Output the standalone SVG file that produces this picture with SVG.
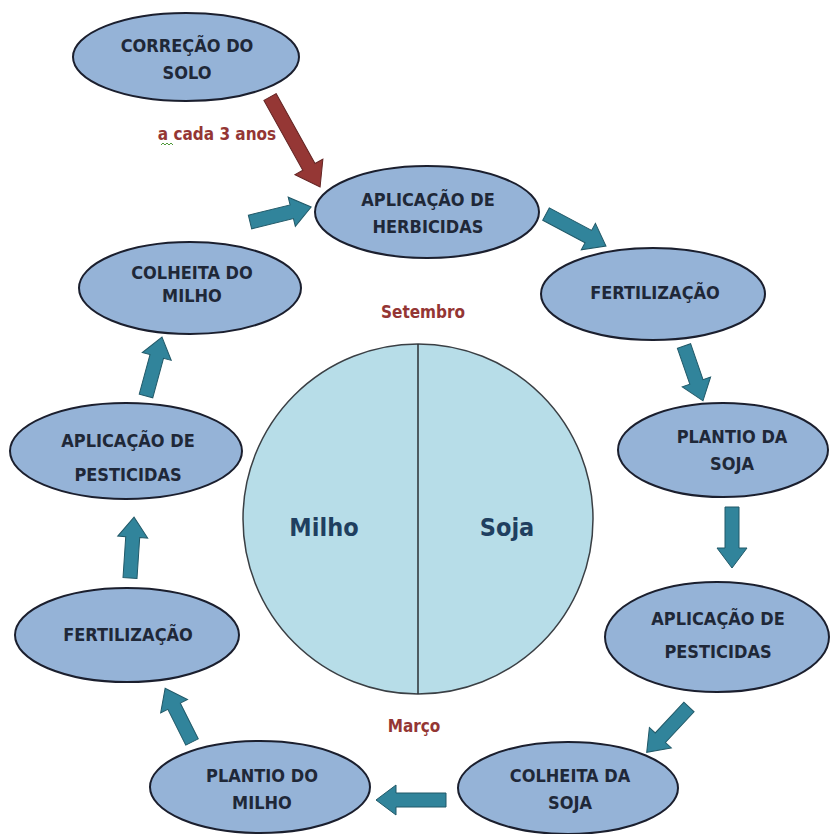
<svg xmlns="http://www.w3.org/2000/svg" width="830" height="834" viewBox="0 0 830 834">
  <style>
    .node ellipse { fill: #95b3d7; stroke: #1b1f2e; stroke-width: 2; }
    .node text { font-family: 'Liberation Sans Narrow', 'DejaVu Sans Condensed', 'Liberation Sans', sans-serif; font-size: 18px; font-weight: bold; fill: #1f2838; text-anchor: middle; dominant-baseline: central; }
    .flow { fill: #31849b; stroke: #215968; stroke-width: 1; }
    .flow-red { fill: #953735; stroke: #632423; stroke-width: 1; }
    .season { font-family: 'Liberation Sans Narrow', 'DejaVu Sans Condensed', 'Liberation Sans', sans-serif; font-weight: bold; fill: #943634; text-anchor: middle; dominant-baseline: central; }
    .crop { font-family: 'Liberation Sans Narrow', 'DejaVu Sans Condensed', 'Liberation Sans', sans-serif; font-size: 25px; font-weight: bold; fill: #1f3f60; text-anchor: middle; dominant-baseline: central; }
  </style>
  <rect width="830" height="834" fill="#ffffff"/>

  <!-- crop calendar circle -->
  <g id="calendar">
    <circle cx="418" cy="519" r="175" fill="#b7dde8" stroke="#3a3f44" stroke-width="1.5"/>
    <line x1="418" y1="344" x2="418" y2="694" stroke="#2a2f34" stroke-width="1.5"/>
    <text class="crop" x="324" y="527">Milho</text>
    <text class="crop" x="507" y="527">Soja</text>
    <text class="season" x="423" y="312" font-size="17">Setembro</text>
    <text class="season" x="414" y="726" font-size="17">Março</text>
  </g>

  <!-- connectors -->
  <g id="connectors">
    <path class="flow-red" transform="translate(270,97) rotate(60.9)" d="M0,-7H80V-16L103,0L80,16V7H0Z"/>
    <path class="flow" transform="translate(250,222) rotate(-13.8)" d="M0,-7H43V-15L63,0L43,15V7H0Z"/>
    <path class="flow" transform="translate(546,214) rotate(28.1)" d="M0,-7H48V-15L68,0L48,15V7H0Z"/>
    <path class="flow" transform="translate(684,346) rotate(70.9)" d="M0,-7H38V-15L58,0L38,15V7H0Z"/>
    <path class="flow" transform="translate(732,507) rotate(90)" d="M0,-7H41V-15L61,0L41,15V7H0Z"/>
    <path class="flow" transform="translate(689,707) rotate(133)" d="M0,-7H42V-15L62,0L42,15V7H0Z"/>
    <path class="flow" transform="translate(446,800) rotate(180)" d="M0,-7H50V-15L70,0L50,15V7H0Z"/>
    <path class="flow" transform="translate(192,742) rotate(-116.6)" d="M0,-7H40V-15L60,0L40,15V7H0Z"/>
    <path class="flow" transform="translate(130,578) rotate(-86.2)" d="M0,-7H41V-15L61,0L41,15V7H0Z"/>
    <path class="flow" transform="translate(146,396) rotate(-74.8)" d="M0,-7H41V-15L61,0L41,15V7H0Z"/>
  </g>

  <g id="label-interval">
    <text class="season" x="217" y="134" font-size="17">a cada 3 anos</text>
    <path d="M161,145 l2,-2 l2,2 l2,-2 l2,2 l2,-2 l2,2" fill="none" stroke="#4f9a3a" stroke-width="1"/>
  </g>

  <!-- stages -->
  <g id="correcao-solo" class="node">
    <ellipse cx="186" cy="57" rx="113" ry="44"/>
    <text x="187" y="45">CORREÇÃO DO</text>
    <text x="187" y="72">SOLO</text>
  </g>
  <g id="aplicacao-herbicidas" class="node">
    <ellipse cx="427" cy="212" rx="112" ry="46"/>
    <text x="428" y="199">APLICAÇÃO DE</text>
    <text x="428" y="226">HERBICIDAS</text>
  </g>
  <g id="fertilizacao-soja" class="node">
    <ellipse cx="653" cy="294" rx="112" ry="46"/>
    <text x="655" y="292">FERTILIZAÇÃO</text>
  </g>
  <g id="plantio-soja" class="node">
    <ellipse cx="723" cy="450" rx="105" ry="47"/>
    <text x="732" y="436">PLANTIO DA</text>
    <text x="732" y="463">SOJA</text>
  </g>
  <g id="pesticidas-soja" class="node">
    <ellipse cx="717" cy="637" rx="112" ry="55"/>
    <text x="718" y="618">APLICAÇÃO DE</text>
    <text x="718" y="651">PESTICIDAS</text>
  </g>
  <g id="colheita-soja" class="node">
    <ellipse cx="568" cy="788" rx="110" ry="46"/>
    <text x="570" y="775">COLHEITA DA</text>
    <text x="570" y="802">SOJA</text>
  </g>
  <g id="plantio-milho" class="node">
    <ellipse cx="260" cy="787" rx="110" ry="46"/>
    <text x="262" y="775">PLANTIO DO</text>
    <text x="262" y="802">MILHO</text>
  </g>
  <g id="fertilizacao-milho" class="node">
    <ellipse cx="127" cy="635" rx="112" ry="47"/>
    <text x="128" y="634">FERTILIZAÇÃO</text>
  </g>
  <g id="pesticidas-milho" class="node">
    <ellipse cx="126" cy="451" rx="116" ry="48"/>
    <text x="128" y="440">APLICAÇÃO DE</text>
    <text x="128" y="474">PESTICIDAS</text>
  </g>
  <g id="colheita-milho" class="node">
    <ellipse cx="190" cy="288" rx="111" ry="46"/>
    <text x="192" y="272">COLHEITA DO</text>
    <text x="192" y="295">MILHO</text>
  </g>
</svg>
